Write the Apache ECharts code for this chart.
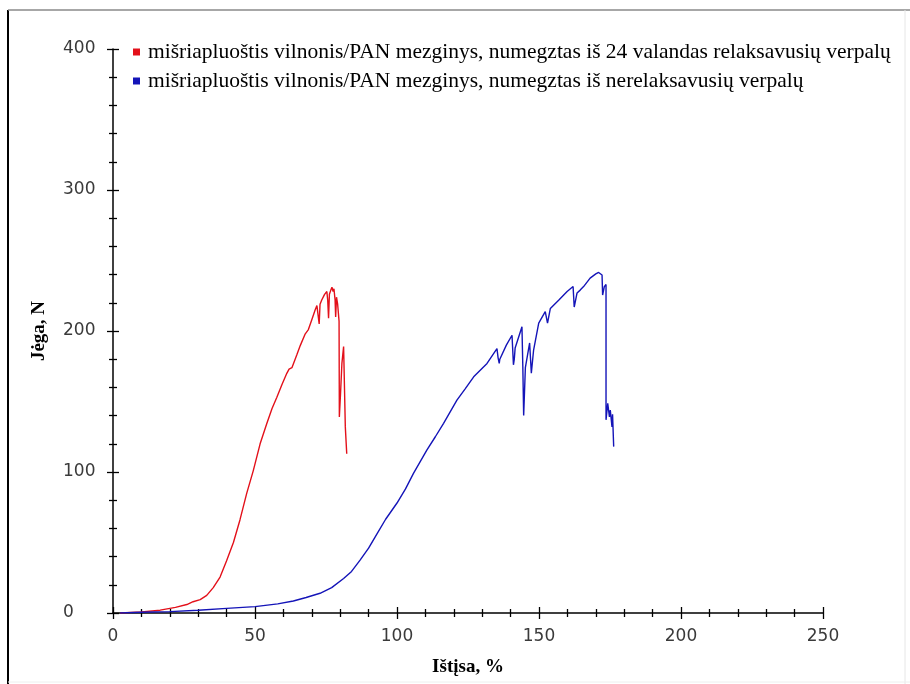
<!DOCTYPE html>
<html>
<head>
<meta charset="utf-8">
<script src="https://cdn.jsdelivr.net/npm/echarts@6/dist/echarts.min.js"></script>
<style>html,body{margin:0;padding:0;background:#fff;}#c{width:910px;height:684px;}</style>
</head>
<body>
<div id="c"></div>
<script>
var seriesNames = [
  'mišriapluoštis vilnonis/PAN mezginys, numegztas iš 24 valandas relaksavusių verpalų',
  'mišriapluoštis vilnonis/PAN mezginys, numegztas iš nerelaksavusių verpalų'
];
var xTitle = 'Ištįsa, %';
var yTitle = 'Jėga, N';

var redX = [2.5,10,16.6,22,26,28.2,30.7,33,35.3,37.7,40,42.4,44.7,47.1,49.4,51.8,54.1,56,57.7,59.5,61.2,62,63,64.7,66,67.7,68.8,70,71.2,71.8,72.3,72.6,72.9,73.5,74.5,75.3,75.6,75.9,76.2,76.7,77.1,77.5,77.8,78.2,78.4,78.7,79.1,79.4,79.6,79.7,80.1,80.6,81.2,81.7,81.8,82.3,82.3];
var redY = [0,0.8,2,4,6,8,9.5,12.5,18,25.5,37,50,66,85,101,120,134,145,153,162,170,173,174,183,190,198,201,208,215,218,219,205,219,222,226,228,222,209,226,229,231,228,230,222,210,224,219,220,207,139,155,177,189,189,132,132,113];

var blueX = [2.5,10,20,30,40,50,58,63.5,68,72.9,77,81.2,84,87,90,92.9,96,100,103,105.8,110.5,113.5,116.4,121.1,124,127,131.7,135.2,135.6,136,136.2,138.5,140.5,141,141.3,141.6,144,144.3,144.6,145.2,146.7,147.3,148.1,149.9,152.2,153,154,157,159.9,162,162.4,163.4,164.5,165.7,168,170,171,172.2,172.4,173,173.6,173.6,174.2,174.8,175.1,175.7,175.9,176.3];
var blueY = [0,0.5,1,2,3.3,4.5,6.5,8.5,11,14,18,24.5,29.5,37.5,46,56,66.5,78,88,99,115.5,125,134.5,151,159,167.5,177,187.5,181,177,180,190,197,176,180,188,203,175,140,174,191.5,170,186.5,205.6,213.7,205.6,216,222,228,231.5,217,227,229,231.5,237.5,240.5,241.5,239.7,225.5,231.5,233,137,148.7,139,144,132,141,118];

var xMin = 0, xMax = 250, xStep = 50;
var yMin = 0, yMax = 400, yStep = 100;

function pairs(xs, ys){ return xs.map(function(x,i){ return [x, ys[i]]; }); }

var chart = echarts.init(document.getElementById('c'), null, {renderer:'canvas'});
var tickFont = {fontFamily:'DejaVu Sans', fontSize:17, color:'#3a3a3a'};
var titleFont = {fontFamily:'Liberation Serif', fontSize:19, fontWeight:'bold', color:'#000'};
var lineStyleAxis = {color:'#000', width:1.5};
var majT = {show:true, length:6, lineStyle:{color:'#000', width:1.3}};
var minT = {show:true, splitNumber:5, length:4, lineStyle:{color:'#000', width:1.3}};

chart.setOption({
  animation:false,
  backgroundColor:'#fff',
  grid:{left:113, right:87, top:49, bottom:71, containLabel:false},
  legend:{
    orient:'vertical', left:128, top:36, itemWidth:7, itemHeight:7, icon:'rect', itemGap:7,
    textStyle:{fontFamily:'Liberation Serif', fontSize:21.5, color:'#000', lineHeight:22, padding:[0,0,0,3]},
    data:seriesNames
  },
  xAxis:[
    {type:'value', position:'bottom', min:xMin, max:xMax, interval:xStep,
     axisLine:{show:true, onZero:false, lineStyle:lineStyleAxis},
     axisTick:majT, minorTick:minT, splitLine:{show:false},
     axisLabel:Object.assign({margin:15}, tickFont),
     name:xTitle, nameLocation:'middle', nameGap:45, nameTextStyle:titleFont},
    {type:'value', position:'top', offset:-564, min:xMin, max:xMax, interval:xStep,
     axisLine:{show:false, onZero:false},
     axisTick:majT, minorTick:minT, splitLine:{show:false}, axisLabel:{show:false}}
  ],
  yAxis:[
    {type:'value', position:'left', min:yMin, max:yMax, interval:yStep,
     axisLine:{show:true, onZero:false, lineStyle:lineStyleAxis},
     axisTick:majT, minorTick:minT, splitLine:{show:false},
     axisLabel:Object.assign({margin:50, align:'left'}, tickFont),
     name:yTitle, nameLocation:'middle', nameGap:64, nameRotate:90, nameTextStyle:titleFont},
    {type:'value', position:'right', offset:-710, min:yMin, max:yMax, interval:yStep,
     axisLine:{show:false, onZero:false},
     axisTick:majT, minorTick:minT, splitLine:{show:false}, axisLabel:{show:false}}
  ],
  graphic:[
    {type:'line', shape:{x1:8, y1:10, x2:8, y2:684}, style:{stroke:'#000', lineWidth:2}, silent:true},
    {type:'line', shape:{x1:8, y1:10, x2:910, y2:10}, style:{stroke:'#8a8a8a', lineWidth:1.5}, silent:true},
    {type:'line', shape:{x1:905, y1:10, x2:905, y2:684}, style:{stroke:'#e6e6e6', lineWidth:1}, silent:true},
    {type:'line', shape:{x1:8, y1:682, x2:910, y2:682}, style:{stroke:'#eeeeee', lineWidth:1}, silent:true}
  ],
  series:[
    {name:seriesNames[0], type:'line', xAxisIndex:0, yAxisIndex:0, showSymbol:false, symbol:'none',
     color:'#e3101a', lineStyle:{color:'#e3101a', width:1.4}, data:pairs(redX, redY)},
    {name:seriesNames[1], type:'line', xAxisIndex:0, yAxisIndex:0, showSymbol:false, symbol:'none',
     color:'#1414b8', lineStyle:{color:'#1414b8', width:1.4}, data:pairs(blueX, blueY)}
  ]
});
</script>
</body>
</html>
